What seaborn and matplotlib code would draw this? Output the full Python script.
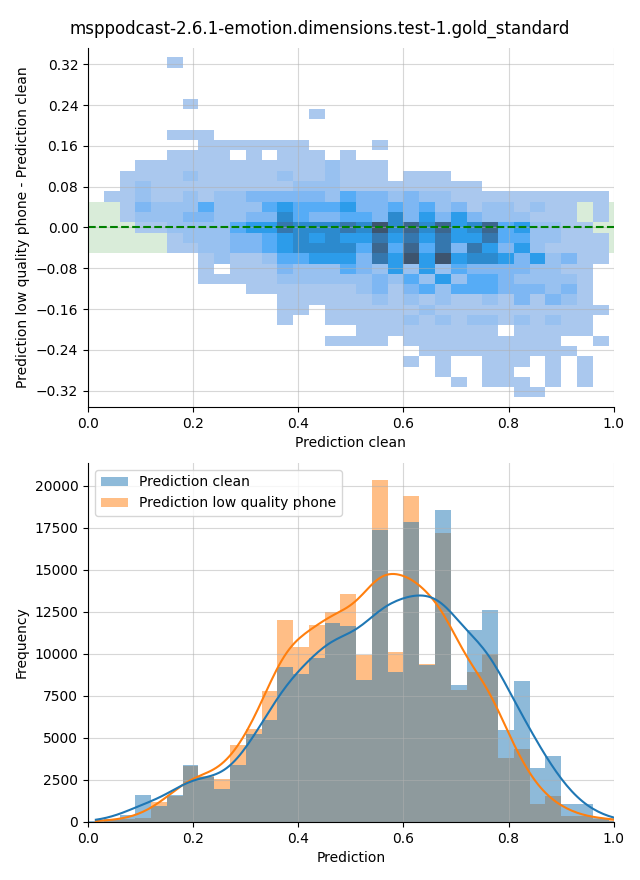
import numpy as np
import pandas as pd
import matplotlib
matplotlib.use("Agg")
import matplotlib.pyplot as plt
import seaborn as sns

title = "msppodcast-2.6.1-emotion.dimensions.test-1.gold_standard"
label_clean = "Prediction clean"
label_phone = "Prediction low quality phone"

# 2D histogram: x bins of 0.03 (0..0.99), y bins of 0.0202 centred on 0
x_edges = np.arange(34) * 0.03
y_step = 0.0202
y_edges = (np.arange(-16, 18) - 0.5) * y_step

# colour level of each cell (0 = empty, 9 = darkest)
# one string per row, top row (y bin +16) first, 33 x bins per row
grid_rows = [
    "000001000000000000000000000000000",  # 16
    "000000000000000000000000000000000",  # 15
    "000000000000000000000000000000000",  # 14
    "000000000000000000000000000000000",  # 13
    "000000100000000000000000000000000",  # 12
    "000000000000001000000000000000000",  # 11
    "000000000000000000000000000000000",  # 10
    "000001110000000000000000000000000",  # 9
    "000000011111110000100000000000000",  # 8
    "000001111010111010000000000000000",  # 7
    "000111111111111211100000000000000",  # 6
    "001111211111211211101110000000000",  # 5
    "001211111111122211111111100000000",  # 4
    "011211212233333243323221111111111",  # 3
    "001322242224544453343423122121101",  # 2
    "001222332233643344363535322211101",  # 1
    "000112222455766676968685684522110",  # 0
    "000001222334565655757575574422111",  # -1
    "000001122334566664848473753521111",  # -2
    "000000012112445553759595665352311",  # -3
    "000000010111322243252524333322110",  # -4
    "000000011111222222324252443222210",  # -5
    "000000000011111112313424443332310",  # -6
    "000000000000111111212121121313210",  # -7
    "000000000000110111111211111111111",  # -8
    "000000000000100111112121221212110",  # -9
    "000000000000000001111111110111110",  # -10
    "000000000000000111101111111111001",  # -11
    "000000000000000000000111111111100",  # -12
    "000000000000000000001010011101010",  # -13
    "000000000000000000000010011001010",  # -14
    "000000000000000000000001011101010",  # -15
    "000000000000000000000000000110000",  # -16
]
# approximate cell count for each colour level
level_counts = [0, 40, 300, 650, 1050, 1600, 2200, 2800, 3400, 4000]

# 1D histograms, 34 bins of 0.03 from 0 to 1.02
n_bins = 34
counts_clean = [50, 150, 400, 1590, 935, 1630, 3380, 2650, 1970, 3400, 5250,
                6070, 9230, 8820, 9770, 11840, 11640, 8420, 17350, 8900, 17850,
                9350, 18550, 8140, 11440, 12580, 5470, 8400, 3200, 3920, 1055,
                1055, 260, 60]
counts_phone = [20, 100, 200, 250, 1190, 1530, 3320, 2750, 2530, 4580, 5500,
                7800, 12040, 10410, 11740, 12500, 13550, 9950, 20340, 10110,
                19380, 9410, 17170, 7820, 8900, 9990, 3820, 4340, 1055, 1530,
                340, 340, 200, 140]

# build the cell table for the 2D histogram
cells = []
for i, row in enumerate(grid_rows):
    j = 16 - i
    for k, ch in enumerate(row):
        if ch != "0":
            cells.append((k * 0.03 + 0.015, j * y_step, level_counts[int(ch)]))
df_2d = pd.DataFrame(cells, columns=["x", "y", "w"])

centers = np.arange(n_bins) * 0.03 + 0.015
df_1d = pd.DataFrame({
    "value": np.concatenate([centers, centers]),
    "count": counts_clean + counts_phone,
    "series": [label_clean] * n_bins + [label_phone] * n_bins,
})

fig, (ax1, ax2) = plt.subplots(2, 1, figsize=(6.4, 8.8), dpi=100)
fig.subplots_adjust(left=0.1375, right=0.959, top=0.9455, bottom=0.066, hspace=0.156)

# top: difference heatmap
ax1.axhspan(-0.05, 0.05, color="green", alpha=0.15, zorder=0, lw=0)
sns.histplot(data=df_2d, x="x", y="y", weights="w", bins=[x_edges, y_edges], ax=ax1)
ax1.axhline(0, color="green", linestyle="--", linewidth=1.5)
ax1.set_xlim(0, 1)
ax1.set_ylim(-0.352, 0.352)
ax1.set_yticks(np.round(np.arange(-0.32, 0.33, 0.08), 2))
ax1.set_xlabel(label_clean)
ax1.set_ylabel("Prediction low quality phone - Prediction clean")
ax1.grid(alpha=0.5)

# bottom: overlaid histograms
sns.histplot(data=df_1d, x="value", weights="count", hue="series", bins=n_bins,
             binrange=(0, 1.02), kde=True, kde_kws=dict(bw_adjust=0.4),
             alpha=0.5, linewidth=0, ax=ax2)
ax2.set_xlim(0, 1)
ax2.set_xlabel("Prediction")
ax2.set_ylabel("Frequency")
ax2.grid(alpha=0.5)
sns.move_legend(ax2, "upper left", title=None)

sns.despine(fig)
fig.suptitle(title, fontsize=12, y=0.978)
fig.savefig("out.png")
